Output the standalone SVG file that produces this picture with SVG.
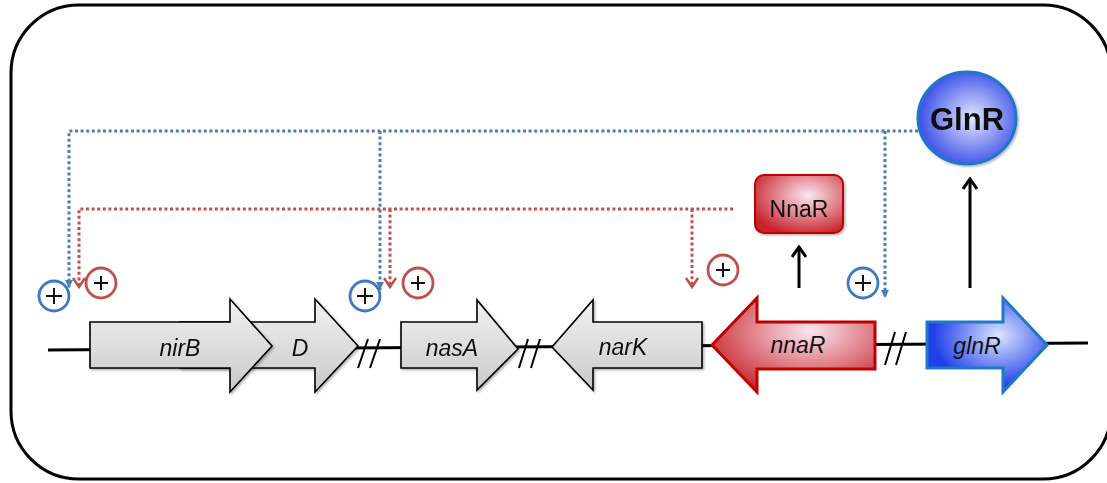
<svg xmlns="http://www.w3.org/2000/svg" width="1107" height="483" viewBox="0 0 1107 483">
<defs>
<linearGradient id="grey" x1="0" y1="0" x2="0" y2="1">
<stop offset="0" stop-color="#f2f2f2"/><stop offset="1" stop-color="#c9c9c9"/>
</linearGradient>
<radialGradient id="red" cx="0.6" cy="0.35" r="0.7">
<stop offset="0" stop-color="#fbe6f0"/><stop offset="1" stop-color="#c8232b"/>
</radialGradient>
<radialGradient id="blue" cx="0.55" cy="0.5" r="0.6">
<stop offset="0" stop-color="#e4e8ff"/><stop offset="1" stop-color="#2a3fe6"/>
</radialGradient>
<radialGradient id="blue2" cx="0.6" cy="0.4" r="0.55">
<stop offset="0" stop-color="#dde4ff"/><stop offset="1" stop-color="#1f3fe8"/>
</radialGradient>
<marker id="ab" markerWidth="10" markerHeight="10" refX="9" refY="5" orient="auto" markerUnits="userSpaceOnUse" viewBox="0 0 10 10">
<path d="M1,1 L9,5 L1,9 Z" fill="#4a7ebb"/>
</marker>
<marker id="ar" markerWidth="12" markerHeight="14" refX="10" refY="7" orient="auto" markerUnits="userSpaceOnUse" viewBox="0 0 12 14">
<path d="M1,1 L10,7 L1,13" fill="none" stroke="#c0504d" stroke-width="2.5"/>
</marker>
<marker id="ak" markerWidth="14" markerHeight="16" refX="12" refY="8" orient="auto" markerUnits="userSpaceOnUse" viewBox="0 0 14 16">
<path d="M2,1 L12,8 L2,15" fill="none" stroke="#000" stroke-width="3"/>
</marker>
<filter id="sh" x="-10%" y="-10%" width="130%" height="130%">
<feDropShadow dx="1.5" dy="1.5" stdDeviation="1" flood-color="#000" flood-opacity="0.3"/>
</filter>
</defs>
<style>
.frame{fill:#fff;stroke:#000;stroke-width:3}
.gene{fill:url(#grey);stroke:#000;stroke-width:1.6}
.lbl{font-family:"Liberation Sans",Arial,sans-serif;font-style:italic;font-size:23px;fill:#111;text-anchor:middle;dominant-baseline:central}
.bdot{fill:none;stroke:#4a7ebb;stroke-width:3;stroke-dasharray:3 2.6}
.rdot{fill:none;stroke:#c0504d;stroke-width:3;stroke-dasharray:3 2.6}
.bp{fill:#fff;stroke:#3f78c4;stroke-width:2.8}
.rp{fill:#fff;stroke:#c0504d;stroke-width:2.8}
.plus{stroke:#111;stroke-width:2}
.slash{stroke:#000;stroke-width:2}
</style>
<rect class="frame" x="11" y="5" width="1100" height="474" rx="68" ry="68"/>

<g id="backbone">
<line x1="48" y1="350" x2="1088" y2="343" stroke="#000" stroke-width="3"/>
<line class="slash" x1="358" y1="368" x2="368" y2="339"/>
<line class="slash" x1="370" y1="368" x2="380" y2="339"/>
<line class="slash" x1="519" y1="368" x2="528" y2="339"/>
<line class="slash" x1="531" y1="368" x2="540" y2="339"/>
<line class="slash" x1="885" y1="365" x2="895" y2="332"/>
<line class="slash" x1="896" y1="365" x2="906" y2="332"/>
</g>

<g id="gene-D" filter="url(#sh)">
<path class="gene" d="M180,322 H315 V299 L358,346 L315,392 V368 H180 Z"/>
<text class="lbl" x="300" y="348">D</text>
</g>
<g id="gene-nirB" filter="url(#sh)">
<path class="gene" d="M90,322 H230 V299 L272,346 L230,392 V368 H90 Z"/>
<text class="lbl" x="180" y="348">nirB</text>
</g>
<g id="gene-nasA" filter="url(#sh)">
<path class="gene" d="M401,322 H477 V300 L518,349 L477,390 V368 H401 Z"/>
<text class="lbl" x="452" y="348">nasA</text>
</g>
<g id="gene-narK" filter="url(#sh)">
<path class="gene" d="M702,322 H593 V300 L552,347 L593,390 V368 H702 Z"/>
<text class="lbl" x="623" y="347">narK</text>
</g>
<g id="gene-nnaR">
<path d="M875,322 H757 V298 L712,345 L757,392 V369 H875 Z" fill="url(#red)" stroke="#c00000" stroke-width="3"/>
<text class="lbl" x="798" y="345">nnaR</text>
</g>
<g id="gene-glnR">
<path d="M927,322 H1003 V298 L1047,345 L1003,392 V368 H927 Z" fill="url(#blue2)" stroke="#1f78c8" stroke-width="3"/>
<text class="lbl" x="977" y="346">glnR</text>
</g>

<g id="protein-NnaR" filter="url(#sh)">
<rect x="755" y="175" width="88" height="58" rx="9" fill="url(#red)" stroke="#c00000" stroke-width="2"/>
<text x="799" y="209" font-family="'Liberation Sans',Arial,sans-serif" font-size="23" text-anchor="middle" dominant-baseline="central" fill="#111">NnaR</text>
</g>
<g id="protein-GlnR" filter="url(#sh)">
<ellipse cx="967" cy="118" rx="49" ry="46" fill="url(#blue)" stroke="#1f78c8" stroke-width="3"/>
<text x="967" y="119" font-family="'Liberation Sans',Arial,sans-serif" font-size="31" font-weight="bold" text-anchor="middle" dominant-baseline="central" fill="#111">GlnR</text>
</g>

<g id="connectors">
<path class="bdot" d="M918,131 H69 V288" marker-end="url(#ab)"/>
<path class="bdot" d="M380,131 V290" marker-end="url(#ab)"/>
<path class="bdot" d="M885,131 V298" marker-end="url(#ab)"/>
<path class="rdot" d="M733,209 H79 V287" marker-end="url(#ar)"/>
<path class="rdot" d="M390,209 V287" marker-end="url(#ar)"/>
<path class="rdot" d="M692,209 V287" marker-end="url(#ar)"/>
<line x1="799" y1="288" x2="799" y2="247" stroke="#000" stroke-width="3" marker-end="url(#ak)"/>
<line x1="970" y1="288" x2="970" y2="179" stroke="#000" stroke-width="3" marker-end="url(#ak)"/>
</g>

<g id="plus-b1"><circle class="bp" cx="54" cy="296" r="15"/><path class="plus" d="M46,296 H62 M54,288 V304"/></g>
<g id="plus-r1"><circle class="rp" cx="101" cy="283" r="15"/><path class="plus" d="M94,283 H108 M101,276 V290"/></g>
<g id="plus-b2"><circle class="bp" cx="365" cy="296" r="15"/><path class="plus" d="M357,296 H373 M365,288 V304"/></g>
<g id="plus-r2"><circle class="rp" cx="418" cy="283" r="15"/><path class="plus" d="M411,283 H425 M418,276 V290"/></g>
<g id="plus-r3"><circle class="rp" cx="723" cy="270" r="15"/><path class="plus" d="M716,270 H730 M723,263 V277"/></g>
<g id="plus-b3"><circle class="bp" cx="863" cy="283" r="15"/><path class="plus" d="M855,283 H871 M863,275 V291"/></g>
</svg>
